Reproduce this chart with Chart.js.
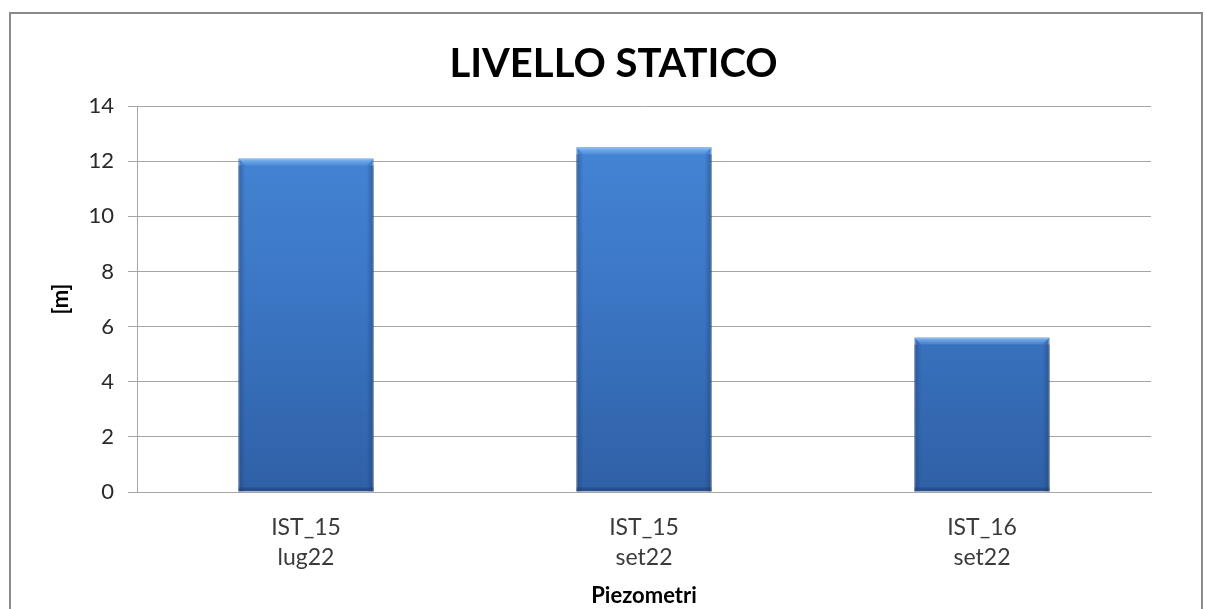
<!DOCTYPE html>
<html>
<head>
<meta charset="utf-8">
<script src="https://cdn.jsdelivr.net/npm/chart.js@4"></script>
<style>
	html, body { margin: 0; padding: 0; background: #fff; }
	#wrap { width: 1205px; height: 609px; }
</style>
</head>
<body>
<div id="wrap"><canvas id="barLivello"></canvas></div>
<script>
const categories = [["IST_15", "lug22"], ["IST_15", "set22"], ["IST_16", "set22"]];
const livello = [12.1, 12.5, 5.6];
const yTicks = [0, 2, 4, 6, 8, 10, 12, 14];

const FONT = "Lato, 'Open Sans', sans-serif";

// cornice grigia attorno al grafico
const frame = {
	id: "frame",
	beforeDraw(chart) {
		const ctx = chart.ctx;
		ctx.save();
		ctx.strokeStyle = "#8a8a8a";
		ctx.lineWidth = 2;
		ctx.strokeRect(10, 13, 1192, 640);
		ctx.restore();
	}
};

// effetto smussato delle barre (stile Excel)
const bevel = {
	id: "bevel",
	afterDatasetsDraw(chart) {
		const ctx = chart.ctx;
		chart.getDatasetMeta(0).data.forEach(bar => {
			const { x, y, base, width } = bar.getProps(["x", "y", "base", "width"], true);
			const l = x - width / 2, r = x + width / 2, b = 7;
			ctx.save();
			// bordo superiore chiaro
			let g = ctx.createLinearGradient(0, y, 0, y + b);
			g.addColorStop(0, "rgba(150,200,250,0.85)");
			g.addColorStop(1, "rgba(110,165,230,0.3)");
			ctx.fillStyle = g;
			ctx.beginPath();
			ctx.moveTo(l, y); ctx.lineTo(r, y); ctx.lineTo(r - b, y + b); ctx.lineTo(l + b, y + b);
			ctx.closePath(); ctx.fill();
			// bordi laterali
			g = ctx.createLinearGradient(l, 0, l + b, 0);
			g.addColorStop(0, "rgba(30,60,110,0.45)");
			g.addColorStop(1, "rgba(30,60,110,0)");
			ctx.fillStyle = g;
			ctx.fillRect(l, y + b, b, base - y - b);
			g = ctx.createLinearGradient(r - b, 0, r, 0);
			g.addColorStop(0, "rgba(30,60,110,0)");
			g.addColorStop(1, "rgba(30,60,110,0.5)");
			ctx.fillStyle = g;
			ctx.fillRect(r - b, y + b, b, base - y - b);
			// bordo inferiore scuro
			ctx.fillStyle = "rgba(25,50,95,0.35)";
			ctx.fillRect(l, base - 4, width, 4);
			ctx.restore();
		});
	}
};

new Chart(
	document.getElementById("barLivello"),
	{
		type: "bar",
		data: {
			labels: categories,
			datasets: [{
				label: "Livello statico",
				data: livello,
				backgroundColor: (c) => {
					const area = c.chart.chartArea;
					if (!area) return "#3f7acb";
					const g = c.chart.ctx.createLinearGradient(0, area.top, 0, area.bottom);
					g.addColorStop(0, "#4688d8");
					g.addColorStop(0.5, "#3b76c4");
					g.addColorStop(1, "#2f60a6");
					return g;
				},
				borderColor: "#2b5590",
				borderWidth: 1,
				categoryPercentage: 1,
				barPercentage: 0.4,
			}],
		},
		options: {
			responsive: true,
			maintainAspectRatio: false,
			animation: false,
			layout: {
				padding: { left: 76, right: 54, top: 40, bottom: 0 }
			},
			plugins: {
				legend: { display: false },
				tooltip: { enabled: false },
				title: {
					display: true,
					text: "LIVELLO STATICO",
					color: "#000",
					font: { family: FONT, size: 40, weight: "bold" },
					padding: { top: 0, bottom: 18 }
				}
			},
			scales: {
				y: {
					min: 0,
					max: 14,
					afterBuildTicks: (scale) => { scale.ticks = yTicks.map(v => ({ value: v })); },
					afterFit: (scale) => { scale.width = 61; },
					ticks: {
						color: "#2a2a2a",
						font: { family: FONT, size: 22 },
						padding: 14
					},
					grid: {
						color: "#a6a6a6",
						lineWidth: 1,
						tickLength: 9
					},
					border: { color: "#a6a6a6" },
					title: {
						display: true,
						text: "[m]",
						color: "#000",
						font: { family: FONT, size: 22, weight: "bold" },
						padding: { top: -28, bottom: 4 }
					}
				},
				x: {
					afterFit: (scale) => { scale.height = 117; },
					ticks: {
						color: "#3a3a3a",
						font: { family: FONT, size: 23, lineHeight: 1.3 },
						padding: 13
					},
					grid: { display: false },
					border: { color: "#a6a6a6" },
					title: {
						display: true,
						text: "Piezometri",
						color: "#000",
						font: { family: FONT, size: 22, weight: "bold" },
						padding: { top: 0, bottom: 0 }
					}
				}
			}
		},
		plugins: [frame, bevel]
	}
)
</script>
</body>
</html>
